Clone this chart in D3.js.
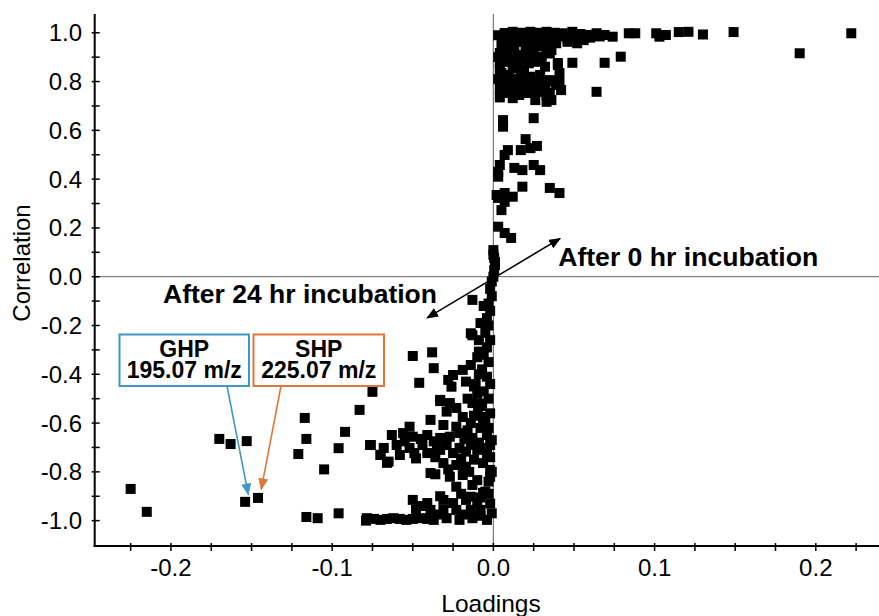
<!DOCTYPE html>
<html>
<head>
<meta charset="utf-8">
<script src="https://cdn.jsdelivr.net/npm/d3@7/dist/d3.min.js"></script>
<style>
  html, body { margin: 0; padding: 0; background: #fff; }
  svg { display: block; font-family: "Liberation Sans", Arial, sans-serif; }
</style>
</head>
<body>
<svg id="chart" width="879" height="616"></svg>
<script>
// ---------------- DATA ----------------
// Upper cluster (positive loadings, positive correlation) — [loading, correlation]
const upperPoints = [
  [0.007,0.999],[0.012,1.004],[0.018,1.0],[0.023,1.004],[0.028,1.0],[0.033,1.004],[0.038,1.0],
  [0.043,0.998],[0.049,1.004],[0.054,0.995],[0.058,0.991],[0.064,0.998],[0.069,0.991],
  [0.074,0.984],[0.084,0.998],[0.088,0.998],[0.101,0.998],[0.103,0.984],[0.107,0.991],
  [0.115,1.003],[0.121,1.004],[0.130,0.993],[0.149,1.003],[0.222,0.998],[0.190,0.916],
  [0.006,0.963],[0.011,0.957],[0.017,0.963],[0.023,0.954],[0.029,0.963],[0.034,0.950],
  [0.039,0.957],[0.046,0.963],[0.052,0.957],[0.056,0.970],
  [0.010,0.990],[0.016,0.985],[0.022,0.975],[0.030,0.985],[0.036,0.975],[0.044,0.985],
  [0.003,0.990],[0.008,0.975],[0.014,0.970],[0.019,0.990],[0.026,0.965],[0.031,0.975],
  [0.040,0.990],[0.046,0.975],[0.051,0.985],[0.060,0.980],[0.066,0.985],
  [0.005,0.950],[0.013,0.940],[0.021,0.935],[0.027,0.945],[0.033,0.940],
  [0.036,0.929],[0.049,0.877],[0.069,0.877],[0.064,0.758],[0.079,0.902],
  [0.004,0.917],[0.009,0.922],[0.015,0.909],[0.020,0.929],[0.025,0.916],[0.030,0.902],
  [0.003,0.900],[0.008,0.895],[0.013,0.890],[0.018,0.890],[0.024,0.895],[0.029,0.890],[0.035,0.915],
  [0.004,0.876],[0.010,0.881],[0.015,0.868],[0.022,0.875],[0.027,0.881],[0.032,0.861],
  [0.040,0.876],[0.041,0.835],[0.040,0.868],
  [0.004,0.850],[0.012,0.855],[0.019,0.850],[0.008,0.800],[0.015,0.810],[0.020,0.770],[0.009,0.760],
  [0.005,0.835],[0.010,0.827],[0.017,0.835],[0.023,0.820],[0.029,0.827],[0.035,0.806],
  [0.003,0.810],[0.011,0.805],[0.018,0.815],[0.024,0.800],[0.030,0.805],[0.037,0.800],
  [0.006,0.786],[0.012,0.779],[0.018,0.794],[0.025,0.779],[0.032,0.779],[0.039,0.786],[0.042,0.765],
  [0.004,0.770],[0.015,0.765],[0.028,0.770],[0.016,0.745],[0.004,0.735],[0.035,0.755],
  [0.008,0.753],[0.012,0.732],[0.021,0.753],[0.027,0.758],[0.033,0.745],[0.036,0.724],
  [0.026,0.724],[0.033,0.717],[0.041,0.794],
  [0.006,0.642],[0.006,0.615],[0.025,0.650],
  [0.020,0.564],[0.027,0.536],[0.023,0.527],[0.017,0.519],[0.009,0.519],[0.007,0.499],
  [0.004,0.458],[0.013,0.446],[0.018,0.437],[0.025,0.458],[0.029,0.437],[0.003,0.430],[0.003,0.410],
  [0.018,0.369],[0.035,0.364],[0.041,0.343],
  [0.002,0.335],[0.007,0.343],[0.012,0.328],[0.007,0.307],[0.005,0.273],[0.003,0.323],
  [0.003,0.205],[0.007,0.179],[0.011,0.159],
  [0.000,0.109],[0.0005,0.077],[0.001,0.048],[0.0005,0.027],[0.000,0.000],[0.001,0.060],[0.000,0.090]
];

// Lower cluster (negative loadings, negative correlation) — [loading, correlation]
const lowerPoints = [
  [-0.225,-0.870],[-0.215,-0.964],[-0.170,-0.665],[-0.163,-0.686],[-0.153,-0.674],
  [-0.154,-0.923],[-0.146,-0.907],
  [-0.121,-0.727],[-0.117,-0.579],[-0.116,-0.665],[-0.116,-0.985],[-0.109,-0.990],[-0.105,-0.790],
  [-0.096,-0.970],[-0.096,-0.703],[-0.092,-0.636],[-0.083,-0.546],[-0.075,-0.472],[-0.079,-1.000],
  [-0.076,-0.690],[-0.070,-0.730],[-0.066,-0.763],
  [-0.050,-0.325],[-0.038,-0.310],[-0.037,-0.375],[-0.046,-0.435],[-0.013,-0.240],[-0.033,-0.510],
  [-0.036,-0.810],[-0.003,-0.890],
  [-0.013,-0.095],[-0.014,-0.232],[-0.009,-0.307],
  [-0.025,-0.403],[-0.019,-0.382],[-0.014,-0.362],[-0.028,-0.423],[-0.026,-0.451],
  [-0.033,-0.505],[-0.027,-0.518],[-0.023,-0.538],[-0.029,-0.553],
  [-0.013,-0.518],[-0.0095,-0.555],[-0.0064,-0.575],
  [-0.052,-0.615],[-0.039,-0.587],[-0.031,-0.608],[-0.023,-0.615],[-0.014,-0.600],[-0.0064,-0.594],
  [-0.063,-0.649],[-0.056,-0.641],[-0.050,-0.656],[-0.041,-0.649],[-0.033,-0.661],[-0.027,-0.656],
  [-0.021,-0.641],[-0.013,-0.661],[-0.004,-0.649],
  [-0.045,-0.665],[-0.037,-0.675],[-0.018,-0.665],[-0.009,-0.680],[-0.055,-0.675],
  [-0.0765,-0.690],[-0.068,-0.702],[-0.060,-0.690],[-0.052,-0.702],[-0.044,-0.690],[-0.035,-0.702],
  [-0.029,-0.690],[-0.021,-0.702],[-0.014,-0.690],[-0.008,-0.702],[-0.002,-0.690],
  [-0.070,-0.731],[-0.065,-0.758],[-0.058,-0.731],[-0.049,-0.723],[-0.041,-0.723],[-0.033,-0.710],
  [-0.025,-0.723],[-0.017,-0.717],[-0.010,-0.710],[-0.004,-0.723],
  [-0.048,-0.745],[-0.036,-0.740],[-0.020,-0.745],[-0.012,-0.750],
  [-0.023,-0.772],[-0.031,-0.764],[-0.017,-0.779],[-0.0064,-0.764],[-0.002,-0.792],
  [-0.028,-0.790],[-0.015,-0.800],
  [-0.039,-0.805],[-0.027,-0.820],[-0.019,-0.813],[-0.010,-0.834],[-0.002,-0.820],
  [-0.023,-0.861],[-0.013,-0.854],[-0.014,-0.902],[-0.0064,-0.886],[-0.005,-0.881],
  [-0.033,-0.900],[-0.020,-0.890],[-0.008,-0.905],
  [-0.050,-0.915],[-0.041,-0.928],[-0.031,-0.915],[-0.025,-0.928],[-0.017,-0.915],[-0.010,-0.928],
  [-0.048,-0.956],[-0.039,-0.956],[-0.031,-0.956],[-0.023,-0.956],[-0.014,-0.956],[-0.008,-0.956],
  [-0.045,-0.940],[-0.035,-0.975],[-0.018,-0.975],[-0.008,-0.980],
  [-0.0785,-0.990],[-0.070,-0.997],[-0.062,-0.990],[-0.054,-0.997],[-0.045,-0.990],[-0.037,-0.997],
  [-0.029,-0.990],[-0.021,-0.997],[-0.013,-0.990],[-0.004,-0.997],
  [-0.074,-0.993],[-0.066,-0.993],[-0.058,-0.993],[-0.050,-0.993],[-0.041,-0.993],
  [-0.016,-0.630],[-0.008,-0.620],[-0.019,-0.575],[-0.012,-0.450],[-0.016,-0.500],[-0.007,-0.520],
  [-0.009,-0.400],[-0.017,-0.430],
  [-0.001,-0.020],[-0.002,-0.050],[-0.001,-0.080],[-0.003,-0.110],[-0.002,-0.140],[-0.004,-0.170],
  [-0.003,-0.200],[-0.005,-0.230],[-0.002,-0.260],[-0.004,-0.290],[-0.006,-0.320],[-0.003,-0.350],
  [-0.007,-0.380],[-0.004,-0.410],[-0.002,-0.440],[-0.006,-0.470],[-0.003,-0.500],[-0.008,-0.530],
  [-0.002,-0.560],[-0.005,-0.580],[-0.003,-0.620],[-0.001,-0.670],[-0.002,-0.740],[-0.001,-0.800],
  [-0.003,-0.840],[-0.002,-0.930],[-0.001,-0.970],
  [-0.006,-0.120],[-0.008,-0.190],[-0.009,-0.260],[-0.010,-0.330],[-0.011,-0.440],[-0.010,-0.480],
  [-0.012,-0.570]
];

const xMajorTicks = [-0.2, -0.1, 0.0, 0.1, 0.2];
const xMinorTicks = [-0.225,-0.175,-0.15,-0.125,-0.075,-0.05,-0.025,0.025,0.05,0.075,0.125,0.15,0.175,0.225];
const yMajorTicks = [-1.0,-0.8,-0.6,-0.4,-0.2,0.0,0.2,0.4,0.6,0.8,1.0];
const yMinorTicks = [-0.9,-0.7,-0.5,-0.3,-0.1,0.1,0.3,0.5,0.7,0.9];

const xTitle = "Loadings";
const yTitle = "Correlation";
const labelAfter0 = "After 0 hr incubation";
const labelAfter24 = "After 24 hr incubation";
const ghpLines = ["GHP", "195.07 m/z"];
const shpLines = ["SHP", "225.07 m/z"];

// ---------------- LAYOUT ----------------
const W = 879, H = 616;
const plot = { left: 94.7, right: 879, top: 14, bottom: 546 };
const x = d3.scaleLinear().domain([-0.2473, 0.2392]).range([plot.left, plot.right]);
const y = d3.scaleLinear().domain([-1.104, 1.077]).range([plot.bottom, plot.top]);
const fmt = v => v.toFixed(1);

const svg = d3.select("#chart");

const defs = svg.append("defs");
function marker(id, color) {
  defs.append("marker")
    .attr("id", id).attr("viewBox", "0 0 12 10")
    .attr("refX", 11).attr("refY", 5)
    .attr("markerWidth", 12).attr("markerHeight", 10)
    .attr("markerUnits", "userSpaceOnUse")
    .attr("orient", "auto-start-reverse")
    .append("path").attr("d", "M0,0 L12,5 L0,10 Z").attr("fill", color);
}
marker("arrBlack", "#000");
marker("arrBlue", "#3f97c4");
marker("arrOrange", "#e0773a");

// zero reference lines
svg.append("line")
  .attr("x1", x(0)).attr("x2", x(0)).attr("y1", plot.top).attr("y2", plot.bottom)
  .attr("stroke", "#7f7f7f").attr("stroke-width", 1.3);
svg.append("line")
  .attr("x1", plot.left).attr("x2", plot.right).attr("y1", y(0)).attr("y2", y(0))
  .attr("stroke", "#7f7f7f").attr("stroke-width", 1.3);

// points
const allPoints = upperPoints.concat(lowerPoints);
const S = 10;
svg.append("g").selectAll("rect").data(allPoints).join("rect")
  .attr("x", d => x(d[0]) - S / 2)
  .attr("y", d => y(d[1]) - S / 2)
  .attr("width", S).attr("height", S)
  .attr("fill", "#000");

// axes
const axG = svg.append("g");
axG.append("line").attr("x1", plot.left).attr("x2", plot.left)
  .attr("y1", plot.top).attr("y2", plot.bottom + 1).attr("stroke", "#000").attr("stroke-width", 2);
axG.append("line").attr("x1", plot.left - 1).attr("x2", plot.right)
  .attr("y1", plot.bottom).attr("y2", plot.bottom).attr("stroke", "#000").attr("stroke-width", 2);

// x ticks
axG.selectAll(".xt").data(xMajorTicks.concat(xMinorTicks)).join("line")
  .attr("x1", d => x(d)).attr("x2", d => x(d))
  .attr("y1", plot.bottom - 3).attr("y2", plot.bottom + 5)
  .attr("stroke", "#000").attr("stroke-width", 1.5);
axG.selectAll(".xl").data(xMajorTicks).join("text")
  .attr("x", d => x(d)).attr("y", 576)
  .attr("text-anchor", "middle").attr("font-size", 24).attr("fill", "#000")
  .text(fmt);

// y ticks
axG.selectAll(".yt").data(yMajorTicks.concat(yMinorTicks)).join("line")
  .attr("y1", d => y(d)).attr("y2", d => y(d))
  .attr("x1", plot.left - 3).attr("x2", plot.left + 5)
  .attr("stroke", "#000").attr("stroke-width", 1.5);
axG.selectAll(".yl").data(yMajorTicks).join("text")
  .attr("x", 82).attr("y", d => y(d) + 8.5)
  .attr("text-anchor", "end").attr("font-size", 24).attr("fill", "#000")
  .text(fmt);

// axis titles
svg.append("text").attr("x", 491).attr("y", 612)
  .attr("text-anchor", "middle").attr("font-size", 24.5).text(xTitle);
svg.append("text")
  .attr("transform", "translate(30,263) rotate(-90)")
  .attr("text-anchor", "middle").attr("font-size", 24).text(yTitle);

// double arrow
svg.append("line")
  .attr("x1", x(-0.0411)).attr("y1", y(-0.169))
  .attr("x2", x(0.0414)).attr("y2", y(0.157))
  .attr("stroke", "#000").attr("stroke-width", 1.6)
  .attr("marker-start", "url(#arrBlack)").attr("marker-end", "url(#arrBlack)");

svg.append("text").attr("x", x(0.0402)).attr("y", y(0.044))
  .attr("font-size", 26.6).attr("font-weight", "bold").text(labelAfter0);
svg.append("text").attr("x", x(-0.035)).attr("y", y(-0.108))
  .attr("text-anchor", "end")
  .attr("font-size", 26.5).attr("font-weight", "bold").text(labelAfter24);

// callout boxes
function callout(lines, x0, y0, x1, y1, color, from, to, markerId) {
  svg.append("rect")
    .attr("x", x0).attr("y", y0).attr("width", x1 - x0).attr("height", y1 - y0)
    .attr("fill", "#fff").attr("stroke", color).attr("stroke-width", 2);
  const cx = (x0 + x1) / 2;
  svg.append("text").attr("x", cx).attr("y", y0 + 22.5)
    .attr("text-anchor", "middle").attr("font-size", 23).attr("font-weight", "bold").text(lines[0]);
  svg.append("text").attr("x", cx).attr("y", y0 + 43.5)
    .attr("text-anchor", "middle").attr("font-size", 23).attr("font-weight", "bold").text(lines[1]);
  svg.append("line")
    .attr("x1", from[0]).attr("y1", from[1]).attr("x2", to[0]).attr("y2", to[1])
    .attr("stroke", color).attr("stroke-width", 1.6)
    .attr("marker-end", `url(#${markerId})`);
}
callout(ghpLines, 119.5, 334.5, 249, 386, "#3f97c4",
        [227, 386], [x(-0.152), y(-0.893)], "arrBlue");
callout(shpLines, 253.5, 334.5, 384, 386, "#e0773a",
        [281, 386], [x(-0.144), y(-0.872)], "arrOrange");
</script>
</body>
</html>
